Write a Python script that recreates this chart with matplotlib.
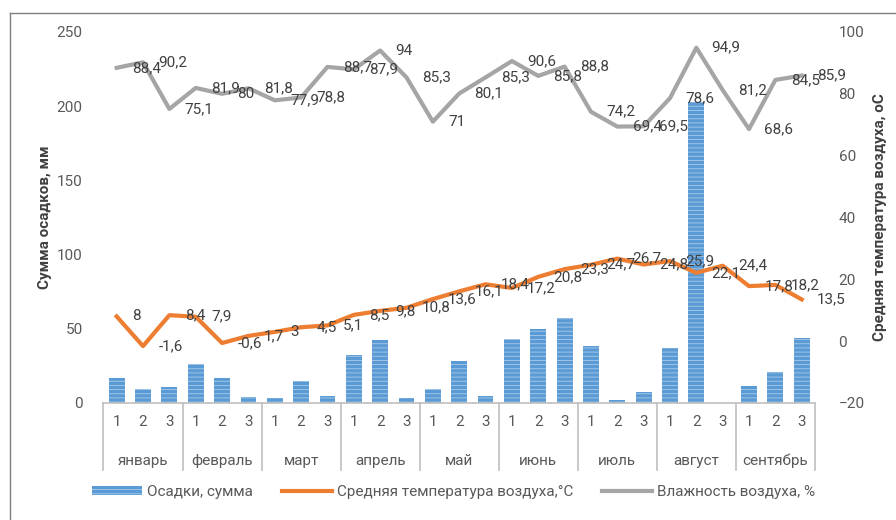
import matplotlib
matplotlib.use("Agg")
import matplotlib.pyplot as plt
from matplotlib.patches import Patch
from matplotlib.lines import Line2D
import numpy as np

plt.rcParams['font.family'] = ['Roboto', 'DejaVu Sans']
plt.rcParams['hatch.linewidth'] = 0.6

# decades of each month, january to september
months = ['январь', 'февраль', 'март', 'апрель', 'май', 'июнь', 'июль', 'август', 'сентябрь']
decades = ['1', '2', '3']

precip = [17, 9.4, 11, 26.5, 17, 4, 3.4, 14.6, 4.7,
          32.3, 42.7, 3.4, 9.4, 28.5, 4.7, 43, 49.6, 57,
          38.6, 2.3, 7.6, 36.8, 203, 0, 11.2, 20.9, 44]
temperature = [8, -1.6, 8.4, 7.9, -0.6, 1.7, 3, 4.5, 5.1,
               8.5, 9.8, 10.8, 13.6, 16.1, 18.4, 17.2, 20.8, 23.3,
               24.7, 26.7, 24.8, 25.9, 22.1, 24.4, 17.8, 18.2, 13.5]
humidity = [88.4, 90.2, 75.1, 81.9, 80, 81.8, 77.9, 78.8, 88.7,
            87.9, 94, 85.3, 71, 80.1, 85.3, 90.6, 85.8, 88.8,
            74.2, 69.4, 69.5, 78.6, 94.9, 81.2, 68.6, 84.5, 85.9]

BLUE = '#5B9BD5'
ORANGE = '#ED7D31'
GRAY = '#A5A5A5'
TICK = '#595959'
TEXT = '#404040'


def fmt(v):
    # decimal comma, no trailing zero
    s = f'{v:g}'
    return s.replace('.', ',')


fig = plt.figure(figsize=(8.96, 5.2), dpi=100)
ax = fig.add_axes([0.1155, 0.225, 0.794, 0.7135])
ax2 = ax.twinx()

x = np.arange(len(precip))

# precipitation bars on the left axis
ax.bar(x, precip, width=0.6, color=BLUE, edgecolor='#A9CBEA', linewidth=0,
       hatch='----', zorder=2)
ax.set_xlim(-0.5, len(precip) - 0.5)
ax.set_ylim(0, 250)
ax.set_yticks(range(0, 251, 50))
ax.set_xticks([])

# temperature and humidity on the right axis
ax2.plot(x, temperature, color=ORANGE, lw=3, solid_joinstyle='round')
ax2.plot(x, humidity, color=GRAY, lw=3, solid_joinstyle='round')
ax2.set_ylim(-20, 100)
ax2.set_yticks(range(-20, 101, 20))

for series in (temperature, humidity):
    for xi, v in zip(x, series):
        ax2.annotate(fmt(v), (xi, v), xytext=(11, 0), textcoords='offset points',
                     ha='left', va='center', fontsize=11, color=TEXT)

for a in (ax, ax2):
    for side in ('top', 'left', 'right', 'bottom'):
        a.spines[side].set_visible(False)
    a.tick_params(axis='y', length=0, labelsize=11, labelcolor=TICK)
ax.tick_params(axis='y', pad=15)
ax2.tick_params(axis='y', pad=17)

ax.set_ylabel('Сумма осадков, мм', fontsize=11, fontweight='bold', color=TEXT, labelpad=3)
ax2.set_ylabel('Средняя температура воздуха, оС', fontsize=11, fontweight='bold',
               color=TEXT, labelpad=6)

# two-level category axis: decades and months
trans = ax.get_xaxis_transform()
ax.plot([-0.5, len(precip) - 0.5], [0, 0], color='#BFBFBF', lw=1.2,
        transform=trans, clip_on=False)
for m in range(len(months) + 1):
    ax.plot([m * 3 - 0.5] * 2, [0, -0.18], color='#BFBFBF', lw=1.2,
            transform=trans, clip_on=False)
for i, m in enumerate(months):
    for j, d in enumerate(decades):
        ax.text(i * 3 + j, -0.051, d, transform=trans, ha='center', va='center',
                fontsize=11, color=TICK)
    ax.text(i * 3 + 1, -0.156, m, transform=trans, ha='center', va='center',
            fontsize=11, color=TICK)

handles = [Patch(facecolor=BLUE, edgecolor='#A9CBEA', linewidth=0, hatch='----'),
           Line2D([], [], color=ORANGE, lw=3),
           Line2D([], [], color=GRAY, lw=3)]
labels = ['Осадки, сумма', 'Средняя температура воздуха,°C', 'Влажность воздуха, %']
fig.legend(handles, labels, loc='center', bbox_to_anchor=(0.506, 0.054), ncol=3,
           frameon=False, fontsize=11, labelcolor=TICK, handlelength=3.3,
           handleheight=0.5, handletextpad=0.3, columnspacing=1.9)

# chart frame
fig.add_artist(Line2D([0.011, 0.011], [0, 0.975], color='#7F7F7F', lw=1))
fig.add_artist(Line2D([0.011, 1], [0.975, 0.975], color='#7F7F7F', lw=1))

fig.savefig('out.png', dpi=100)
